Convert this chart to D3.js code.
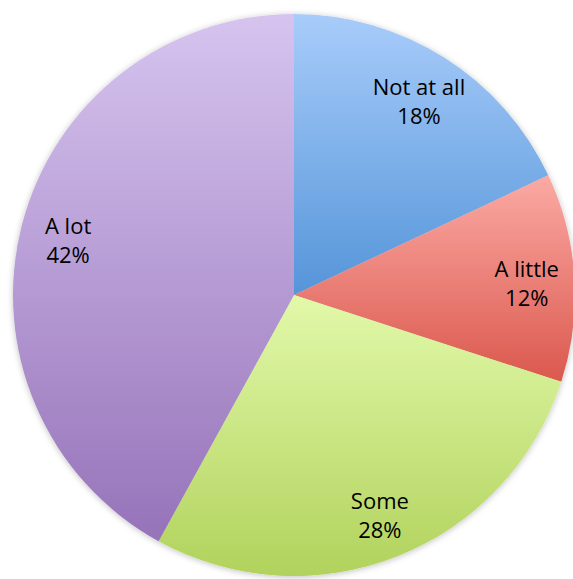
<!DOCTYPE html>
<html>
<head>
<meta charset="utf-8">
<script src="https://cdn.jsdelivr.net/npm/d3@7"></script>
<style>
    html, body { margin: 0; padding: 0; background: #fff; }
    svg { display: block; }
</style>
</head>
<body>
<div id="chart"></div>
<script>
const categories = ["Not at all", "A little", "Some", "A lot"];
const percents = [18, 12, 28, 42];
const topColors = ["#a8ccfa", "#fbaaa4", "#e2f9aa", "#d6c4ef"];
const bottomColors = ["#5595d9", "#db584d", "#b1d25c", "#9673b9"];

const width = 573;
const height = 579;
const cx = 294;
const cy = 295;
const radius = 281;

const svg = d3.select("#chart")
    .append("svg")
    .attr("width", width)
    .attr("height", height);

const defs = svg.append("defs");

// soft shadow round the pie
const shadow = defs.append("filter")
    .attr("id", "shadow")
    .attr("x", "-10%").attr("y", "-10%")
    .attr("width", "120%").attr("height", "120%");
shadow.append("feDropShadow")
    .attr("dx", 0).attr("dy", 1)
    .attr("stdDeviation", 3)
    .attr("flood-color", "#000")
    .attr("flood-opacity", 0.25);

// one vertical gradient per slice, top light, bottom dark
categories.forEach((c, i) => {
    const g = defs.append("linearGradient")
        .attr("id", `grad${i}`)
        .attr("x1", 0).attr("y1", 0)
        .attr("x2", 0).attr("y2", 1);
    g.append("stop").attr("offset", "0%").attr("stop-color", topColors[i]);
    g.append("stop").attr("offset", "100%").attr("stop-color", bottomColors[i]);
});

const data = categories.map((c, i) => ({ name: c, value: percents[i], index: i }));

const pie = d3.pie()
    .value(d => d.value)
    .sort(null);

const arc = d3.arc()
    .innerRadius(0)
    .outerRadius(radius);

const labelArc = d3.arc()
    .innerRadius(radius * 0.83)
    .outerRadius(radius * 0.83);

const g = svg.append("g")
    .attr("transform", `translate(${cx},${cy})`);

const arcs = pie(data);

g.append("g")
    .attr("filter", "url(#shadow)")
    .selectAll("path")
    .data(arcs)
    .enter()
    .append("path")
    .attr("d", arc)
    .attr("fill", d => `url(#grad${d.data.index})`);

const labels = g.selectAll(".label")
    .data(arcs)
    .enter()
    .append("text")
    .attr("class", "label")
    .attr("transform", d => `translate(${labelArc.centroid(d)})`)
    .attr("text-anchor", "middle")
    .style("font-family", "'Open Sans', sans-serif")
    .style("font-size", "22px")
    .attr("fill", "#000");

labels.append("tspan")
    .attr("x", 0)
    .attr("y", -3)
    .text(d => d.data.name);

labels.append("tspan")
    .attr("x", 0)
    .attr("y", 26)
    .text(d => d.data.value + "%");
</script>
</body>
</html>
